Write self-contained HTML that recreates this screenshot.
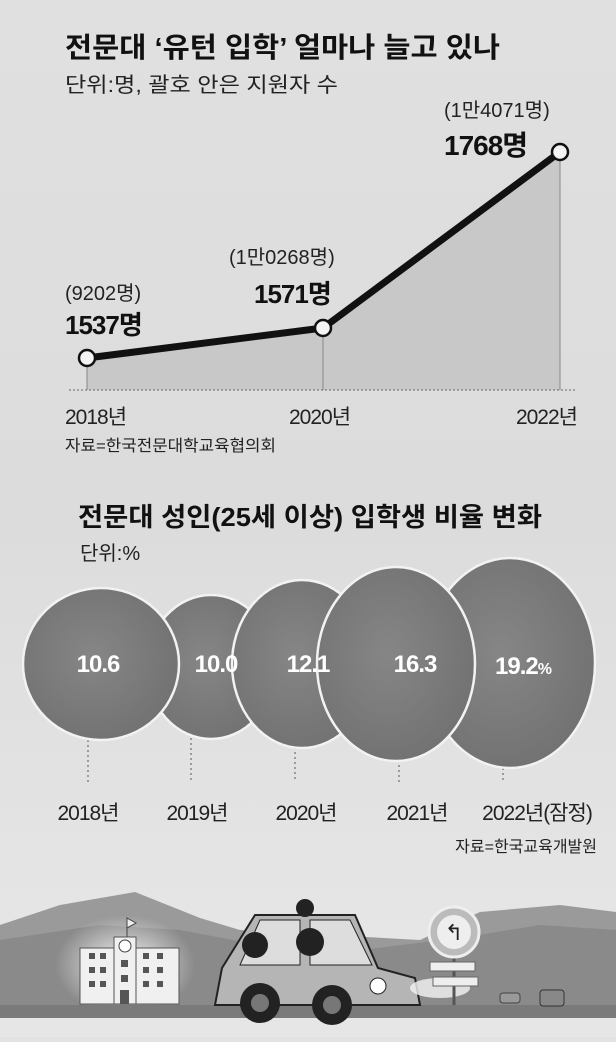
<!DOCTYPE html>
<html><head><meta charset="utf-8"><style>
html,body{margin:0;padding:0}
body{width:616px;height:1037px;overflow:hidden;background:#e2e2e2;font-family:"Liberation Sans","Noto Sans CJK KR",sans-serif;}
</style></head><body>
<svg width="616" height="1037" viewBox="0 0 616 1037" xmlns="http://www.w3.org/2000/svg" font-family="Liberation Sans, Noto Sans CJK KR, sans-serif">
<defs>
<linearGradient id="bg" x1="0" y1="0" x2="0" y2="1">
<stop offset="0" stop-color="#e0e0e0"/><stop offset="0.5" stop-color="#dcdcdc"/><stop offset="1" stop-color="#e8e8e8"/>
</linearGradient>
<radialGradient id="cg" cx="0.45" cy="0.45" r="0.6">
<stop offset="0" stop-color="#868686"/><stop offset="1" stop-color="#717171"/>
</radialGradient>
<radialGradient id="glow" cx="0.5" cy="0.5" r="0.5">
<stop offset="0" stop-color="#f4f4f4"/><stop offset="1" stop-color="#f4f4f4" stop-opacity="0"/>
</radialGradient>
</defs>
<rect width="616" height="1037" fill="url(#bg)"/>

<!-- Top chart -->
<text x="65" y="57" font-size="28" font-weight="bold" fill="#111" textLength="435" lengthAdjust="spacingAndGlyphs">전문대 ‘유턴 입학’ 얼마나 늘고 있나</text>
<text x="65" y="92" font-size="21" fill="#222" textLength="273" lengthAdjust="spacingAndGlyphs">단위:명, 괄호 안은 지원자 수</text>

<polygon points="87,358 323,328 560,152 560,390 87,390" fill="#c8c8c8"/>
<line x1="87" y1="358" x2="87" y2="390" stroke="#888" stroke-width="1"/>
<line x1="323" y1="328" x2="323" y2="390" stroke="#888" stroke-width="1"/>
<line x1="560" y1="152" x2="560" y2="390" stroke="#888" stroke-width="1"/>
<line x1="69" y1="390" x2="576" y2="390" stroke="#666" stroke-width="1" stroke-dasharray="2,2"/>
<polyline points="87,358 323,328 560,152" fill="none" stroke="#111" stroke-width="7" stroke-linejoin="round"/>
<circle cx="87" cy="358" r="8" fill="#f4f4f4" stroke="#111" stroke-width="2.5"/>
<circle cx="323" cy="328" r="8" fill="#f4f4f4" stroke="#111" stroke-width="2.5"/>
<circle cx="560" cy="152" r="8" fill="#f4f4f4" stroke="#111" stroke-width="2.5"/>

<text x="65" y="300" font-size="20" fill="#222">(9202명)</text>
<text x="65" y="334" font-size="26" font-weight="bold" fill="#111" letter-spacing="-1">1537명</text>
<text x="229" y="264" font-size="20" fill="#222">(1만0268명)</text>
<text x="254" y="303" font-size="26" font-weight="bold" fill="#111" letter-spacing="-1">1571명</text>
<text x="444" y="117" font-size="20" fill="#222">(1만4071명)</text>
<text x="444" y="155" font-size="28" font-weight="bold" fill="#111" letter-spacing="-1">1768명</text>

<text x="65" y="424" font-size="21" fill="#222" letter-spacing="-1">2018년</text>
<text x="289" y="424" font-size="21" fill="#222" letter-spacing="-1">2020년</text>
<text x="577" y="424" font-size="21" fill="#222" text-anchor="end" letter-spacing="-1">2022년</text>
<text x="65" y="451" font-size="16" fill="#222" textLength="211" lengthAdjust="spacingAndGlyphs">자료=한국전문대학교육협의회</text>

<!-- Bottom chart -->
<text x="78" y="526" font-size="26" font-weight="bold" fill="#111" textLength="464" lengthAdjust="spacingAndGlyphs">전문대 성인(25세 이상) 입학생 비율 변화</text>
<text x="80" y="560" font-size="20" fill="#222">단위:%</text>

<g stroke-dasharray="2,3" stroke="#555" stroke-width="1">
<line x1="88" y1="740" x2="88" y2="782"/>
<line x1="191" y1="738" x2="191" y2="782"/>
<line x1="295" y1="747" x2="295" y2="782"/>
<line x1="399" y1="760" x2="399" y2="782"/>
<line x1="503" y1="768" x2="503" y2="782"/>
</g>
<g stroke="#f2f2f2" stroke-width="2.5" fill="url(#cg)">
<ellipse cx="211" cy="667" rx="64" ry="72"/>
<ellipse cx="510" cy="663" rx="85" ry="105"/>
<ellipse cx="302" cy="664" rx="70" ry="84"/>
<ellipse cx="101" cy="664" rx="78" ry="76"/>
<ellipse cx="396" cy="664" rx="79" ry="97"/>
</g>
<g fill="#fff" font-size="24" font-weight="bold" text-anchor="middle" letter-spacing="-1">
<text x="98" y="672">10.6</text>
<text x="216" y="672">10.0</text>
<text x="308" y="672">12.1</text>
<text x="415" y="672">16.3</text>
<text x="523" y="674">19.2<tspan font-size="16">%</tspan></text>
</g>
<g font-size="21" fill="#222" letter-spacing="-1" text-anchor="middle">
<text x="88" y="820">2018년</text>
<text x="197" y="820">2019년</text>
<text x="306" y="820">2020년</text>
<text x="417" y="820">2021년</text>
<text x="537" y="820">2022년(잠정)</text>
</g>
<text x="597" y="852" font-size="16" fill="#222" text-anchor="end">자료=한국교육개발원</text>

<!-- Illustration -->
<polygon points="0,925 60,905 135,892 200,918 240,930 330,935 420,940 480,912 560,905 616,912 616,1017 0,1017" fill="#9a9a9a"/>
<polygon points="0,940 100,925 180,930 260,945 360,950 460,938 540,925 616,930 616,1017 0,1017" fill="#8a8a8a"/>
<ellipse cx="125" cy="965" rx="70" ry="50" fill="url(#glow)"/>
<rect x="0" y="1005" width="616" height="13" fill="#7a7a7a"/>
<rect x="0" y="1018" width="616" height="19" fill="#e6e6e6"/>
<!-- building -->
<rect x="80" y="948" width="99" height="56" fill="#f0f0f0" stroke="#555"/>
<rect x="114" y="937" width="22" height="67" fill="#f0f0f0" stroke="#555"/>
<circle cx="125" cy="946" r="6" fill="#fff" stroke="#444"/>
<line x1="127" y1="918" x2="127" y2="937" stroke="#444"/>
<polygon points="127,918 136,923 127,928" fill="#eee" stroke="#444"/>
<g fill="#555">
<rect x="89" y="953" width="6" height="6"/><rect x="100" y="953" width="6" height="6"/><rect x="143" y="953" width="6" height="6"/><rect x="157" y="953" width="6" height="6"/>
<rect x="89" y="967" width="6" height="6"/><rect x="100" y="967" width="6" height="6"/><rect x="143" y="967" width="6" height="6"/><rect x="157" y="967" width="6" height="6"/>
<rect x="89" y="981" width="6" height="6"/><rect x="100" y="981" width="6" height="6"/><rect x="143" y="981" width="6" height="6"/><rect x="157" y="981" width="6" height="6"/>
<rect x="121" y="960" width="7" height="7"/><rect x="121" y="975" width="7" height="7"/><rect x="120" y="990" width="9" height="14"/>
</g>
<!-- car -->
<path d="M222,968 L255,915 L355,915 L378,968 L415,978 L420,1005 L215,1005 Z" fill="#b5b5b5" stroke="#222" stroke-width="2"/>
<path d="M260,920 L300,920 L300,965 L240,965 Z" fill="#ddd" stroke="#222"/>
<path d="M310,920 L350,920 L372,965 L310,965 Z" fill="#ddd" stroke="#222"/>
<circle cx="260" cy="1003" r="20" fill="#222"/><circle cx="260" cy="1003" r="9" fill="#777"/>
<circle cx="332" cy="1005" r="20" fill="#222"/><circle cx="332" cy="1005" r="9" fill="#777"/>
<circle cx="378" cy="986" r="8" fill="#fff" stroke="#222"/>
<ellipse cx="440" cy="988" rx="30" ry="10" fill="#f4f4f4" opacity="0.8"/>
<circle cx="255" cy="945" r="13" fill="#222"/><circle cx="310" cy="942" r="14" fill="#222"/><circle cx="305" cy="908" r="9" fill="#222"/>
<!-- sign -->
<line x1="454" y1="955" x2="454" y2="1005" stroke="#555" stroke-width="3"/>
<circle cx="454" cy="932" r="25" fill="#bbb" stroke="#eee" stroke-width="3"/>
<circle cx="454" cy="932" r="17" fill="#eee"/>
<text x="454" y="940" font-size="22" text-anchor="middle" fill="#222">↰</text>
<rect x="430" y="962" width="45" height="9" fill="#eee" stroke="#666"/>
<rect x="433" y="977" width="45" height="9" fill="#eee" stroke="#666"/>
<rect x="540" y="990" width="24" height="16" rx="3" fill="#888" stroke="#333"/>
<rect x="500" y="993" width="20" height="10" rx="3" fill="#999" stroke="#444"/>
</svg>
</body></html>
